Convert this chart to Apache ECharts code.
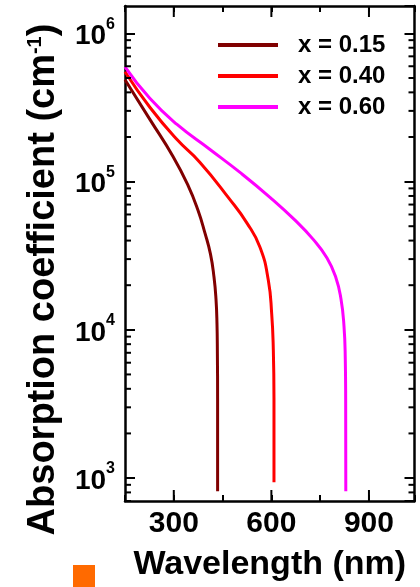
<!DOCTYPE html>
<html>
<head>
<meta charset="utf-8">
<script src="https://cdn.jsdelivr.net/npm/echarts@6/dist/echarts.min.js"></script>
<style>
html,body{margin:0;padding:0;background:#fff;}
#chart{width:420px;height:587px;}
</style>
</head>
<body>
<div id="chart"></div>
<script>
// ---- data ----
const seriesNames = ['x = 0.15', 'x = 0.40', 'x = 0.60'];
const seriesColors = ['#800000', '#ff0000', '#ff00ff'];

const wl015 = [150, 226.9, 297.6, 343.7, 374.4, 395.9, 412.8, 423.6, 429.7, 432.8, 434.0, 434.7, 434.7];
const ab015 = [4.87e5, 2.62e5, 1.478e5, 9.43e4, 6.41e4, 4.49e4, 3.24e4, 2.27e4, 1.615e4, 1.097e4, 6.89e3, 3.44e3, 815];

const wl040 = [150, 226.9, 309.9, 380.6, 469.7, 525.0, 565.0, 590.5, 601.0, 605.9, 608.0, 608.0];
const ab040 = [5.51e5, 3.16e5, 1.92e5, 1.347e5, 7.71e4, 5.25e4, 3.61e4, 2.17e4, 1.28e4, 7.45e3, 3.44e3, 935];

const wl060 = [150, 226.9, 309.9, 411.3, 503.5, 595.7, 672.6, 727.9, 771.0, 798.6, 814.0, 823.2, 827.2, 828.4, 828.8];
const ab060 = [5.95e5, 3.63e5, 2.43e5, 1.647e5, 1.153e5, 7.83e4, 5.49e4, 4.09e4, 3.05e4, 2.24e4, 1.615e4, 1.063e4, 6.38e3, 3.44e3, 815];

const xTickLabels = [300, 600, 900];
const xMin = 150, xMax = 1040, xStep = 150;
const yMin = 700, yMax = 1.53e6;
const yMinorTicks = [700, 800, 900,
  2e3, 3e3, 4e3, 5e3, 6e3, 7e3, 8e3, 9e3,
  2e4, 3e4, 4e4, 5e4, 6e4, 7e4, 8e4, 9e4,
  2e5, 3e5, 4e5, 5e5, 6e5, 7e5, 8e5, 9e5];

// ---- chart ----
const FONT = '"Liberation Sans", Arial, sans-serif';
const chart = echarts.init(document.getElementById('chart'), null, {renderer: 'canvas'});

function zip(xs, ys) { return xs.map((x, i) => [x, ys[i]]); }
const lineData = [zip(wl015, ab015), zip(wl040, ab040), zip(wl060, ab060)];

const axisLineStyle = {color: '#000', width: 2.5};
const isPow10 = v => Math.abs(Math.log10(v) - Math.round(Math.log10(v))) < 1e-6;

const option = {
  animation: false,
  backgroundColor: '#fff',
  grid: {left: 125, right: 5.5, top: 6, bottom: 84.3, containLabel: false},
  legend: {
    data: seriesNames,
    orient: 'vertical',
    left: 218, top: 33, padding: 0,
    itemWidth: 60, itemHeight: 4, itemGap: 7,
    icon: 'rect',
    textStyle: {fontFamily: FONT, fontWeight: 'bold', fontSize: 24, color: '#000', lineHeight: 24, padding: [0, 0, 0, 15]}
  },
  xAxis: [{
    type: 'value', min: xMin, max: xMax, interval: xStep,
    name: 'Wavelength (nm)', nameLocation: 'middle', nameGap: 47,
    nameTextStyle: {fontFamily: FONT, fontWeight: 'bold', fontSize: 34, color: '#000'},
    axisLine: {show: true, lineStyle: axisLineStyle},
    axisTick: {show: true, inside: true, length: 6, lineStyle: {color: '#000', width: 2}},
    axisLabel: {
      margin: 8, fontFamily: FONT, fontWeight: 'bold', fontSize: 30, color: '#000',
      formatter: v => xTickLabels.indexOf(v) >= 0 ? String(v) : ''
    },
    splitLine: {show: false}
  }, {
    type: 'value', position: 'top', min: xMin, max: xMax, interval: xStep,
    axisLine: {show: true, lineStyle: axisLineStyle},
    axisTick: {show: true, inside: true, length: 6, lineStyle: {color: '#000', width: 2}},
    axisLabel: {show: false}, splitLine: {show: false}
  }],
  yAxis: [{
    type: 'log', logBase: 10, min: yMin, max: yMax,
    name: 'Absorption coefficient (cm{sup|-1})', nameLocation: 'middle', nameGap: 62, nameRotate: 90,
    nameTextStyle: {
      fontFamily: FONT, fontWeight: 'bold', fontSize: 38, color: '#000', padding: [0, 52, 0, 0],
      rich: {sup: {fontFamily: FONT, fontWeight: 'bold', fontSize: 20, color: '#000', verticalAlign: 'top', lineHeight: 28}}
    },
    axisLine: {show: true, lineStyle: axisLineStyle},
    axisTick: {show: true, inside: true, length: 10, lineStyle: {color: '#000', width: 2}},
    axisLabel: {
      margin: 10, showMinLabel: false, showMaxLabel: false,
      formatter: v => isPow10(v) ? '{b|10}{s|' + Math.round(Math.log10(v)) + '}' : '',
      rich: {
        b: {fontFamily: FONT, fontWeight: 'bold', fontSize: 28, color: '#000', lineHeight: 34, verticalAlign: 'bottom'},
        s: {fontFamily: FONT, fontWeight: 'bold', fontSize: 16, color: '#000', lineHeight: 16, verticalAlign: 'top'}
      }
    },
    splitLine: {show: false}
  }, {
    type: 'log', logBase: 10, min: yMin, max: yMax, position: 'right',
    axisLine: {show: true, lineStyle: axisLineStyle},
    axisTick: {show: true, inside: true, length: 10, lineStyle: {color: '#000', width: 2}},
    axisLabel: {show: false}, splitLine: {show: false}
  }],
  series: [
    ...seriesNames.map((n, i) => ({
      name: n, type: 'line', data: lineData[i], xAxisIndex: 0, yAxisIndex: 0,
      showSymbol: false, symbol: 'none', smooth: 0.5,
      lineStyle: {color: seriesColors[i], width: 3}, itemStyle: {color: seriesColors[i]},
      z: 3
    })),
    {
      name: 'yMinorTicks', type: 'custom', silent: true, z: 5,
      xAxisIndex: 0, yAxisIndex: 0,
      data: yMinorTicks.map(v => [xMin, v]),
      renderItem: (params, api) => {
        const v = api.value(1);
        const l = api.coord([xMin, v]);
        const r = api.coord([xMax, v]);
        const st = {stroke: '#000', lineWidth: 2};
        return {type: 'group', children: [
          {type: 'line', shape: {x1: l[0], y1: l[1], x2: l[0] + 6, y2: l[1]}, style: st},
          {type: 'line', shape: {x1: r[0], y1: r[1], x2: r[0] - 6, y2: r[1]}, style: st}
        ]};
      }
    },
    {
      name: 'xMajorTicks', type: 'custom', silent: true, z: 5,
      xAxisIndex: 0, yAxisIndex: 0,
      data: xTickLabels.map(v => [v, yMin]),
      renderItem: (params, api) => {
        const v = api.value(0);
        const b = api.coord([v, yMin]);
        const t = api.coord([v, yMax]);
        const st = {stroke: '#000', lineWidth: 2};
        return {type: 'group', children: [
          {type: 'line', shape: {x1: b[0], y1: b[1], x2: b[0], y2: b[1] - 11}, style: st},
          {type: 'line', shape: {x1: t[0], y1: t[1], x2: t[0], y2: t[1] + 11}, style: st}
        ]};
      }
    }
  ],
  graphic: [{
    type: 'rect', left: 73, top: 565, shape: {width: 22, height: 22},
    style: {fill: '#ff6a00'}, silent: true
  }]
};
chart.setOption(option);
</script>
</body>
</html>
